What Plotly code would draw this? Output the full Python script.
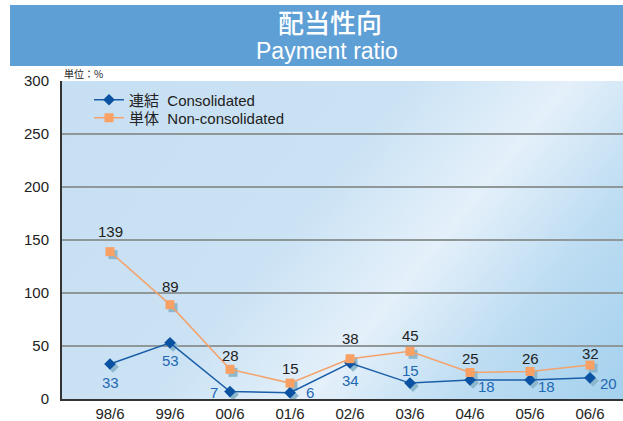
import base64
import plotly.graph_objects as go

# ---------------- data ----------------
periods = ["98/6", "99/6", "00/6", "01/6", "02/6", "03/6", "04/6", "05/6", "06/6"]
consolidated = [33, 53, 7, 6, 34, 15, 18, 18, 20]
non_consolidated = [139, 89, 28, 15, 38, 45, 25, 26, 32]
y_ticks = [0, 50, 100, 150, 200, 250, 300]
name_cons = "連結\u00a0\u00a0Consolidated"
name_non = "単体\u00a0\u00a0Non-consolidated"
title_jp = "配当性向"
title_en = "Payment ratio"
unit_label = "単位：%"

# ---------------- style ----------------
FONT = "Liberation Sans, Arial, Noto Sans CJK JP, sans-serif"
BLUE_LINE = "#1a5ea8"
BLUE_MARK = "#0c52a2"
BLUE_TEXT = "#1f68b2"
ORANGE_LINE = "#f4a26b"
ORANGE_MARK = "#f9a064"
SHADOW = "#8cb7cd"
cons_offsets = [(0, -18), (0, -18), (-16, -1), (20, 0), (0, -18), (0, 13), (16, -7), (16, -7), (18, -6)]
non_offsets = [20, 18, 14, 15, 20, 16, 14, 13, 12]

W, H = 623, 421
ML, MR, MT, MB = 62, 0, 81, 22
PW, PH = W - ML - MR, H - MT - MB
X_RANGE = [-0.8, 8.55]
Y_RANGE = [0, 300]
px_per_cat = PW / (X_RANGE[1] - X_RANGE[0])
px_per_unit = PH / (Y_RANGE[1] - Y_RANGE[0])
SH = 3  # shadow offset, px
X_SHADOW = [X_RANGE[0] - SH / px_per_cat, X_RANGE[1] - SH / px_per_cat]
Y_SHADOW = [Y_RANGE[0] + SH / px_per_unit, Y_RANGE[1] + SH / px_per_unit]


def py(ypix):
    return (H - MB - ypix) / PH


def px(xpix):
    return (xpix - ML) / PW


fig = go.Figure()

fig.add_trace(go.Scatter(x=periods, y=non_consolidated, mode="markers", xaxis="x2", yaxis="y2",
                         marker=dict(symbol="square", size=9, color=SHADOW), showlegend=False, hoverinfo="skip"))
fig.add_trace(go.Scatter(x=periods, y=consolidated, mode="markers", xaxis="x2", yaxis="y2",
                         marker=dict(symbol="diamond", size=9, color=SHADOW), showlegend=False, hoverinfo="skip"))

fig.add_trace(go.Scatter(x=periods, y=consolidated, name=name_cons, mode="lines+markers", xaxis="x3", yaxis="y3",
                         line=dict(color=BLUE_LINE, width=1.5), legend="legend",
                         marker=dict(symbol="diamond", size=9, color=BLUE_MARK)))
fig.add_trace(go.Scatter(x=periods, y=non_consolidated, name=name_non, mode="lines+markers", xaxis="x3", yaxis="y3",
                         line=dict(color=ORANGE_LINE, width=1.5), legend="legend2",
                         marker=dict(symbol="square", size=9, color=ORANGE_MARK)))

annotations = []
for p, v, ys in zip(periods, non_consolidated, non_offsets):
    annotations.append(dict(x=p, y=v, xref="x", yref="y", text=str(v), showarrow=False,
                            yshift=ys, font=dict(size=15, color="#222", family=FONT)))
for p, v, (dx, dy) in zip(periods, consolidated, cons_offsets):
    annotations.append(dict(x=p, y=v, xref="x", yref="y", text=str(v), showarrow=False,
                            xshift=dx, yshift=dy, font=dict(size=15, color=BLUE_TEXT, family=FONT)))

annotations.append(dict(x=px(330), y=py(22), xref="paper", yref="paper", text=title_jp, showarrow=False,
                        xanchor="center", yanchor="middle",
                        font=dict(size=26, color="white", weight=500,
                                  family="Noto Sans CJK JP, sans-serif")))
annotations.append(dict(x=px(327), y=py(51), xref="paper", yref="paper", text=title_en, showarrow=False,
                        xanchor="center", yanchor="middle",
                        font=dict(size=23, color="white", family=FONT)))
annotations.append(dict(x=0, y=py(73), xref="paper", yref="paper", text=unit_label, showarrow=False,
                        xanchor="left", yanchor="middle",
                        font=dict(size=10, color="#222", family="Noto Sans CJK JP, sans-serif")))

svg = f'''<svg xmlns="http://www.w3.org/2000/svg" width="{PW}" height="{PH}" viewBox="0 0 {PW} {PH}" preserveAspectRatio="none">
<defs><linearGradient id="g" gradientUnits="userSpaceOnUse" x1="0" y1="0" x2="491" y2="403">
<stop offset="0" stop-color="#c7dff2"/>
<stop offset="0.42" stop-color="#cae2f4"/>
<stop offset="0.62" stop-color="#e4f0fa"/>
<stop offset="0.80" stop-color="#bcdcf2"/>
<stop offset="1" stop-color="#a4d1ee"/>
</linearGradient></defs>
<rect x="0" y="0" width="{PW}" height="{PH}" fill="url(#g)"/>
</svg>'''
src = "data:image/svg+xml;base64," + base64.b64encode(svg.encode()).decode()

legend_common = dict(xanchor="left", yanchor="middle", bgcolor="rgba(0,0,0,0)",
                     font=dict(size=15, color="#222", family=FONT), itemwidth=30)

fig.update_layout(
    width=W, height=H,
    margin=dict(l=ML, r=MR, t=MT, b=MB, pad=0),
    paper_bgcolor="white",
    plot_bgcolor="rgba(0,0,0,0)",
    font=dict(family=FONT, color="#222", size=15),
    images=[dict(source=src, xref="paper", yref="paper", x=0, y=1, sizex=1, sizey=1,
                 sizing="stretch", xanchor="left", yanchor="top", layer="below")],
    shapes=[dict(type="rect", xref="paper", yref="paper", x0=px(10), x1=1.0, y0=py(66), y1=py(5),
                 fillcolor="#5e9fd6", line=dict(width=0), layer="above")],
    annotations=annotations,
    xaxis=dict(type="category", categoryorder="array", categoryarray=periods, range=X_RANGE,
               showgrid=False, showline=True, linecolor="#333", linewidth=2, ticks="",
               tickfont=dict(size=15, color="#222"), zeroline=False),
    yaxis=dict(range=Y_RANGE, tickvals=y_ticks, showgrid=True, gridcolor="#8f9799", gridwidth=1.5,
               showline=True, linecolor="#333", linewidth=2, ticks="", zeroline=False,
               ticklabelstandoff=8, tickfont=dict(size=15, color="#222")),
    xaxis2=dict(type="category", categoryorder="array", categoryarray=periods, range=X_SHADOW,
                overlaying="x", anchor="y2", visible=False),
    yaxis2=dict(range=Y_SHADOW, overlaying="y", anchor="x2", visible=False),
    xaxis3=dict(type="category", categoryorder="array", categoryarray=periods, range=X_RANGE,
                overlaying="x", anchor="y3", visible=False),
    yaxis3=dict(range=Y_RANGE, overlaying="y", anchor="x3", visible=False),
    legend=dict(x=px(89), y=py(100), **legend_common),
    legend2=dict(x=px(89), y=py(118), **legend_common),
    showlegend=True,
)

fig.write_html("out.html", config={"displayModeBar": False},
               post_script="document.body.style.margin='0';")
